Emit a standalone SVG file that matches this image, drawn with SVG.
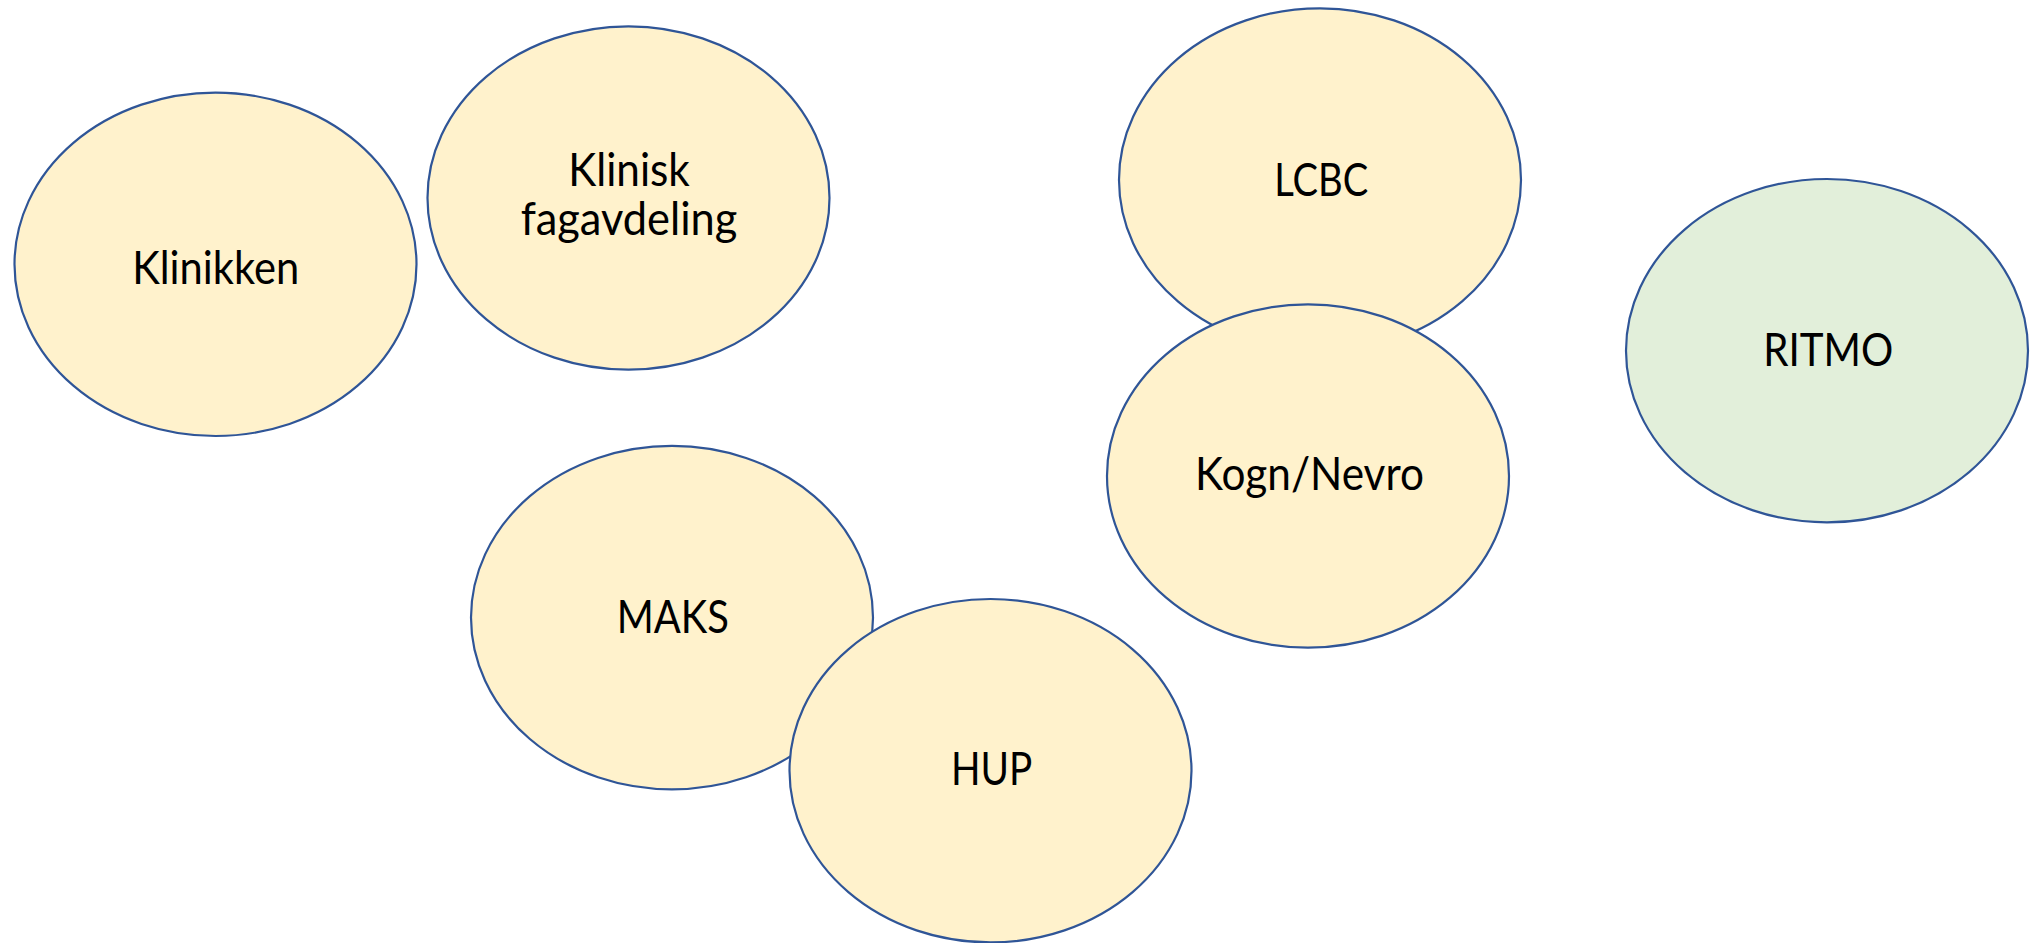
<svg xmlns="http://www.w3.org/2000/svg" width="2031" height="943" viewBox="0 0 2031 943">
<style>
.n{fill:#FFF2CC;stroke:#2F5597;stroke-width:2.2}
.g{fill:#E2EFDA;stroke:#2F5597;stroke-width:2.2}
.t{font-family:Lato,"Open Sans","Liberation Sans",sans-serif;font-size:46px;fill:#000;text-anchor:middle}
</style>
<rect width="2031" height="943" fill="#fff"/>
<g id="connectors"/>
<g id="klinikken">
<ellipse class="n" cx="215.5" cy="264.3" rx="201" ry="171.7"/>
<text class="t" x="215.7" y="283.5" textLength="167" lengthAdjust="spacingAndGlyphs">Klinikken</text>
</g>
<g id="klinisk-fagavdeling">
<ellipse class="n" cx="628.5" cy="198" rx="201" ry="171.7"/>
<text class="t" x="629" y="185.7" textLength="121.7" lengthAdjust="spacingAndGlyphs">Klinisk</text>
<text class="t" x="629" y="235" textLength="216.7" lengthAdjust="spacingAndGlyphs">fagavdeling</text>
</g>
<g id="lcbc">
<ellipse class="n" cx="1320" cy="180" rx="201" ry="171.7"/>
<text class="t" x="1321.3" y="195.7" textLength="94" lengthAdjust="spacingAndGlyphs">LCBC</text>
</g>
<g id="kogn-nevro">
<ellipse class="n" cx="1308" cy="476" rx="201" ry="171.7"/>
<text class="t" x="1309.5" y="490" textLength="229" lengthAdjust="spacingAndGlyphs">Kogn/Nevro</text>
</g>
<g id="ritmo">
<ellipse class="g" cx="1827" cy="350.7" rx="201" ry="171.7"/>
<text class="t" x="1828.3" y="366" textLength="130" lengthAdjust="spacingAndGlyphs">RITMO</text>
</g>
<g id="maks">
<ellipse class="n" cx="672" cy="617.6" rx="201" ry="171.7"/>
<text class="t" x="672.8" y="633.3" textLength="112.3" lengthAdjust="spacingAndGlyphs">MAKS</text>
</g>
<g id="hup">
<ellipse class="n" cx="990.5" cy="770.7" rx="201" ry="171.7"/>
<text class="t" x="991.7" y="785" textLength="81.3" lengthAdjust="spacingAndGlyphs">HUP</text>
</g>
</svg>
